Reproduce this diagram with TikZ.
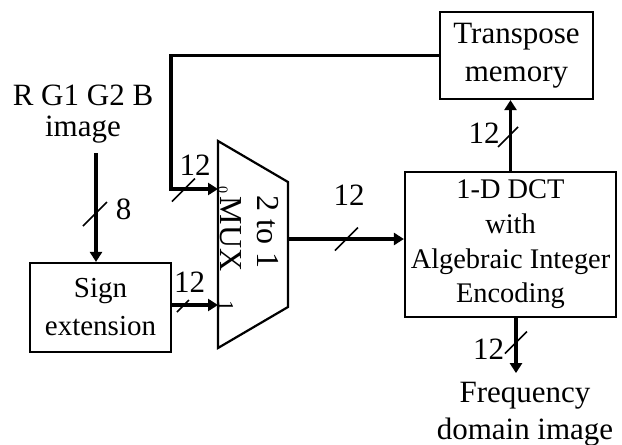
\documentclass[tikz,border=0pt]{standalone}
\usepackage{fontspec}
\setmainfont{Liberation Serif}
\usetikzlibrary{arrows.meta, calc}
\tikzset{
  blockbox/.style={rectangle, draw, line width=1.1pt, align=center, inner sep=0pt,
                   font=\fontsize{15.5}{19}\selectfont},
  wire/.style={line width=1.6pt},
  arrowwire/.style={wire, -{Triangle[length=5pt,width=6pt]}},
  buslabel/.style={inner sep=0pt, font=\fontsize{15.5}{18}\selectfont},
  busmark/.style={line width=0.75pt},
  muxtext/.style={rotate=-90, inner sep=0pt, font=\fontsize{16}{18}\selectfont},
}
\newcommand{\busslash}[2]{\draw[busmark] ($(#1)+(-#2,#2)$) -- ($(#1)+(#2,-#2)$);}

\begin{document}
\begin{tikzpicture}[x=0.5pt, y=-0.5pt]
  \useasboundingbox (0,0) rectangle (622,445);

  % blocks
  \node[blockbox, minimum width=76.5pt, minimum height=43.5pt] (tmem) at (516.5,55.5) {Transpose\\memory};
  \node[blockbox, minimum width=105.5pt, minimum height=72.5pt, font=\fontsize{14.2}{17.3}\selectfont] (dct) at (510.5,244.5) {1-D DCT\\with\\Algebraic Integer\\Encoding};
  \node[blockbox, minimum width=70.5pt, minimum height=44.5pt, font=\fontsize{14.5}{19}\selectfont] (sign) at (100.5,307.5) {Sign\\extension};

  % multiplexer
  \draw[line width=1.1pt] (218,141) -- (288,182) -- (288,307) -- (218,348) -- cycle;
  \coordinate (mux0) at (218,189);
  \coordinate (mux1) at (218,305);
  \coordinate (muxout) at (288,239);
  \node[muxtext] (muxname) at (231,234) {MUX};
  \node[muxtext] (muxratio) at (268,232) {2 to 1};
  \node[muxtext, font=\fontsize{7}{8}\selectfont] (sel0) at (223,190) {0};
  \node[muxtext, font=\fontsize{11}{12}\selectfont] (sel1) at (226,306) {1};

  % outside texts
  \node[align=center, inner sep=0pt, font=\fontsize{15.5}{15.5}\selectfont] (rgb) at (83,114) {R G1 G2 B\\image};
  \node[align=center, inner sep=0pt, font=\fontsize{15.5}{18.5}\selectfont] (freq) at (525,414) {Frequency\\domain image};

  % connectors
  \coordinate (rgbout) at (96,153);
  \coordinate (fbx) at (171,53);
  \draw[arrowwire] (rgbout) -- (rgbout |- sign.north);
  \draw[arrowwire] (tmem.west) -- (tmem.west -| fbx) |- (mux0);
  \draw[arrowwire] (sign.east |- mux1) -- (mux1);
  \draw[arrowwire] (muxout) -- (muxout -| dct.west);
  \draw[arrowwire] (dct.north) -- (dct.north |- tmem.south);
  \draw[arrowwire] ([xshift=2.75pt]dct.south) -- ++(0,55);

  % bus widths
  \busslash{95,214}{12}
  \busslash{183.5,190}{11.5}
  \busslash{183,306}{6}
  \busslash{346.5,239}{11.5}
  \busslash{508,137}{10}
  \busslash{516,342.5}{11}
  \node[buslabel] (w8) at (123.5,209.5) {8};
  \node[buslabel] (wfb) at (195,165) {12};
  \node[buslabel] (wsign) at (189.5,282) {12};
  \node[buslabel] (wout) at (349,195) {12};
  \node[buslabel] (wup) at (484,133) {12};
  \node[buslabel] (wdown) at (488.5,349) {12};
\end{tikzpicture}
\end{document}
